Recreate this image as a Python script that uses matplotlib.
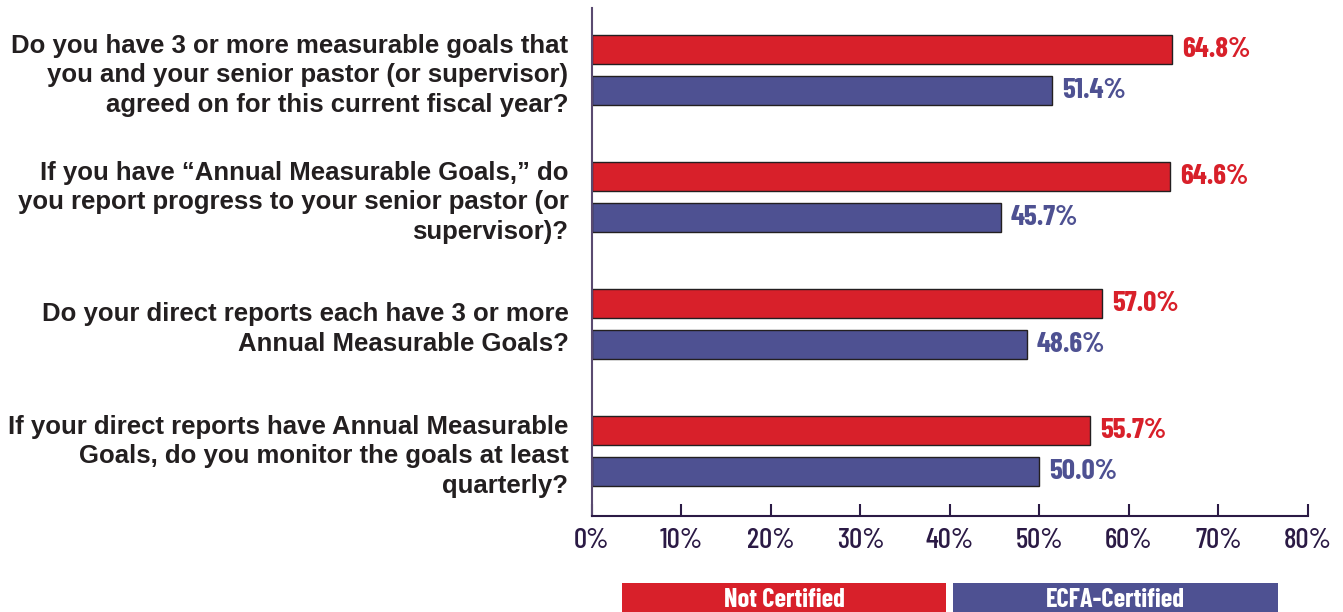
import matplotlib.pyplot as plt
import numpy as np
from matplotlib.patches import Rectangle

questions = [
    "Do you have 3 or more measurable goals that\nyou and your senior pastor (or supervisor)\nagreed on for this current fiscal year?",
    "If you have \u201cAnnual Measurable Goals,\u201d do\nyou report progress to your senior pastor (or\nsupervisor)?",
    "Do your direct reports each have 3 or more\nAnnual Measurable Goals?",
    "If your direct reports have Annual Measurable\nGoals, do you monitor the goals at least\nquarterly?",
]
not_certified = [64.8, 64.6, 57.0, 55.7]
ecfa_certified = [51.4, 45.7, 48.6, 50.0]
xticks = [0, 10, 20, 30, 40, 50, 60, 70, 80]

red = "#D8202A"
blue = "#4E5192"
dark = "#2B1A45"
narrow = dict(family=["Barlow Condensed", "DejaVu Sans"], fontstretch="condensed")

fig = plt.figure(figsize=(13.43, 6.12), dpi=100)
ax = fig.add_axes([0.4408, 0.157, 0.5331, 0.830])

y = np.arange(len(questions))
h = 0.228
off = 0.1614
ax.barh(y - off, not_certified, height=h, color=red, edgecolor="#231F20", linewidth=1)
ax.barh(y + off, ecfa_certified, height=h, color=blue, edgecolor="#231F20", linewidth=1)

for yi, v in zip(y, not_certified):
    ax.text(v + 1.1, yi - off, f"{v:.1f}%", color=red, fontsize=21, fontweight="bold",
            va="center", ha="left", **narrow)
for yi, v in zip(y, ecfa_certified):
    ax.text(v + 1.1, yi + off, f"{v:.1f}%", color=blue, fontsize=21, fontweight="bold",
            va="center", ha="left", **narrow)

ax.set_xlim(0, 80)
ax.set_ylim(3.512, -0.488)
ax.set_xticks(xticks)
ax.set_xticklabels([f"{t}%" for t in xticks], fontsize=21, fontweight="medium", color=dark, **narrow)
ax.tick_params(axis="x", direction="in", length=9, width=1.5, color=dark, pad=9)

ax.set_yticks(y)
ax.set_yticklabels(questions, fontsize=18.5, fontweight="bold", color="#231F20",
                   linespacing=1.3, family="Liberation Sans")
ax.tick_params(axis="y", length=0, pad=17)

for s in ["top", "right"]:
    ax.spines[s].set_visible(False)
ax.spines["left"].set_color("#5A4A70")
ax.spines["left"].set_linewidth(1.5)
ax.spines["bottom"].set_color(dark)
ax.spines["bottom"].set_linewidth(1.5)

# legend boxes along the bottom edge
for x0, x1, c, label in [(622, 946, red, "Not Certified"), (953, 1278, blue, "ECFA-Certified")]:
    fig.add_artist(Rectangle((x0 / 1343, 0), (x1 - x0) / 1343, 29 / 612,
                             transform=fig.transFigure, color=c, lw=0))
    fig.text((x0 + x1) / 2 / 1343, 12 / 612, label, color="white", fontsize=19,
             fontweight="bold", ha="center", va="center", **narrow)

fig.savefig("out.png", dpi=100)
